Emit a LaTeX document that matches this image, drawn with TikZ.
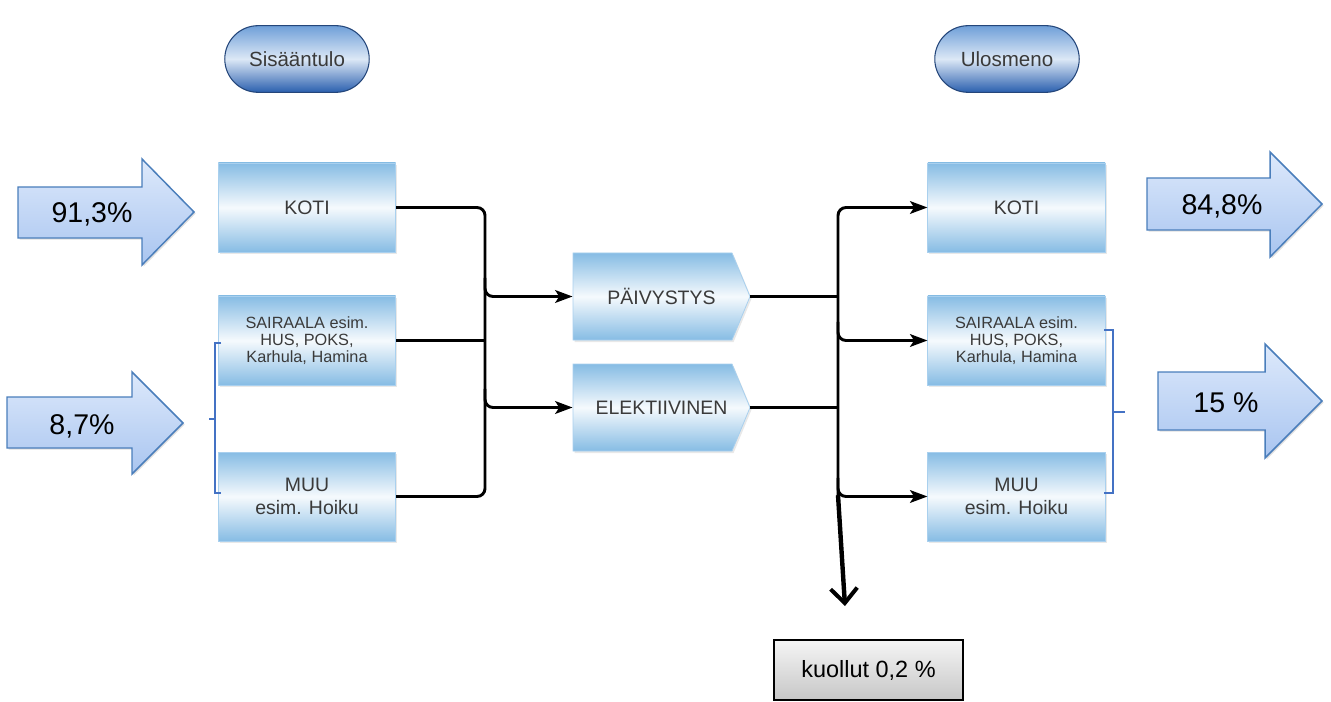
\documentclass[tikz,border=0pt]{standalone}
\usepackage{fontspec}
\setmainfont{Liberation Sans}
\usetikzlibrary{arrows.meta,calc,shadows,shapes.misc}
\definecolor{boxblue}{HTML}{86BCE4}
\definecolor{boxedge}{HTML}{A9D0EE}
\definecolor{pilltop}{HTML}{6F9FD8}
\definecolor{pillmid}{HTML}{DCE8F6}
\definecolor{pillbot}{HTML}{2A5FAE}
\definecolor{pilledge}{HTML}{24467A}
\definecolor{arrtop}{HTML}{DDE9FB}
\definecolor{arrbot}{HTML}{A9C5F0}
\definecolor{arredge}{HTML}{4A7EBB}
\definecolor{brace}{HTML}{4472C4}
\definecolor{txtgray}{HTML}{3A3A3A}
\tikzset{
  boxshadow/.style={drop shadow={opacity=0.18, shadow xshift=1.2pt, shadow yshift=-1.5pt}},
  flowbox/.style={rectangle, draw=boxedge, line width=0.6pt, top color=boxblue, bottom color=boxblue, middle color=white!92!boxblue,
    boxshadow, minimum width=133pt, minimum height=66.75pt, text=txtgray, align=center, font=\fontsize{14.6}{17}\selectfont, inner sep=0pt},
  smallbox/.style={flowbox, font=\fontsize{12.2}{12.8}\selectfont},
  pill/.style={rounded rectangle, draw=pilledge, line width=0.8pt, top color=pilltop, bottom color=pillbot, middle color=pillmid,
    minimum width=115pt, minimum height=50pt, text=txtgray, font=\fontsize{15.4}{18}\selectfont},
  conn/.style={line width=2.2pt, draw=black, rounded corners=6pt},
  tip/.style={-{Stealth[length=13pt,width=9.5pt,inset=3pt]}},
  bigarrow/.style={draw=arredge, line width=1.1pt, top color=arrtop, bottom color=arrbot, line join=miter,
    drop shadow={opacity=0.25, shadow xshift=1.2pt, shadow yshift=-1.2pt}},
  pct/.style={font=\fontsize{21.4}{24}\selectfont, text=black, inner sep=0pt},
  bracket/.style={draw=brace, line width=1.1pt},
  deadbox/.style={rectangle, draw=black, line width=1pt, top color=white!96!black, bottom color=white!78!black,
    minimum width=141.75pt, minimum height=45pt, font=\fontsize{17.6}{20}\selectfont, text=black, inner sep=0pt}
}
\begin{document}
\begin{tikzpicture}[x=0.75pt,y=-0.75pt]
\useasboundingbox (0,0) rectangle (1331,702);

% header pills
\node[pill] (sis) at (297,59) {Sisääntulo};
\node[pill] (ulo) at (1007,59) {Ulosmeno};

% left boxes
\node[flowbox] (kotiL) at (307,207.5) {KOTI};
\node[smallbox] (sairL) at (307,340.5) {SAIRAALA esim.\\HUS, POKS,\\Karhula, Hamina};
\node[flowbox] (muuL) at (307,496.5) {MUU\\esim. Hoiku};

% right boxes
\node[flowbox] (kotiR) at (1016.5,207.5) {KOTI};
\node[smallbox] (sairR) at (1016.5,340.5) {SAIRAALA esim.\\HUS, POKS,\\Karhula, Hamina};
\node[flowbox] (muuR) at (1016.5,496.5) {MUU\\esim. Hoiku};

% middle pointed boxes
\path[draw=boxedge, line width=0.6pt, top color=boxblue, bottom color=boxblue, middle color=white!92!boxblue, boxshadow]
  (573,253) -- (732,253) -- (750,296.5) -- (732,340) -- (573,340) -- cycle;
\node[minimum width=133pt, minimum height=65pt, inner sep=0pt, text=txtgray, font=\fontsize{14.6}{17}\selectfont] (paiv) at (661.5,296.5) {PÄIVYSTYS};
\path[draw=boxedge, line width=0.6pt, top color=boxblue, bottom color=boxblue, middle color=white!92!boxblue, boxshadow]
  (573,364) -- (732,364) -- (750,407.5) -- (732,451) -- (573,451) -- cycle;
\node[minimum width=133pt, minimum height=65pt, inner sep=0pt, text=txtgray, font=\fontsize{14.6}{17}\selectfont] (elek) at (661.5,407.5) {ELEKTIIVINEN};

% left bus
\coordinate (bL) at (485,350);
\draw[conn] (kotiL.east) -| (bL) |- (muuL.east);
\draw[conn, line width=2.4pt] (sairL.east -| bL) -- (sairL.east);
\draw[conn,tip] ([yshift=14pt]paiv.west -| bL) |- (paiv.west);
\draw[conn,tip] ([yshift=14pt]elek.west -| bL) |- (elek.west);

% right bus
\coordinate (bR) at (838,350);
\draw[conn] (paiv.east) -- (paiv.east -| bR);
\draw[conn] (elek.east) -- (elek.east -| bR);
\draw[conn,tip] (muuR.west -| bR) |- (kotiR.west);
\draw[conn,tip] ([yshift=14pt]sairR.west -| bR) |- (sairR.west);
\draw[conn,tip] ([yshift=14pt]muuR.west -| bR) |- (muuR.west);

% death
\node[deadbox] (dead) at (868.5,670) {kuollut 0,2 \%};
\coordinate (deadtip) at (845,606);
\draw[line width=3.3pt, -{Straight Barb[length=11pt,width=20pt,line width=3pt]}] ([yshift=1pt]muuR.west -| bR) -- (deadtip);

% brackets
\draw[bracket] (221,343) -- (215,343) -- (215,493) -- (221,493);
\draw[bracket] (215,419) -- (209,419);
\draw[bracket] (1104,330) -- (1113,330) -- (1113,493) -- (1104,493);
\draw[bracket] (1113,412) -- (1125,412);

% big arrows
\path[bigarrow] (18,187) -- (142,187) -- (142,159) -- (194,212) -- (142,265) -- (142,238) -- (18,238) -- cycle;
\node[pct] (a1) at (92,214) {91,3\%};
\path[bigarrow] (7,397) -- (132,397) -- (132,372) -- (183,423) -- (132,474) -- (132,448) -- (7,448) -- cycle;
\node[pct] (a2) at (82,426) {8,7\%};
\path[bigarrow] (1147,178) -- (1270,178) -- (1270,152) -- (1322,204) -- (1270,257) -- (1270,230) -- (1147,230) -- cycle;
\node[pct] (a3) at (1222,206) {84,8\%};
\path[bigarrow] (1158,372) -- (1265,372) -- (1265,344) -- (1322,401) -- (1265,458) -- (1265,430) -- (1158,430) -- cycle;
\node[pct] (a4) at (1226,403) {15 \%};
\end{tikzpicture}
\end{document}
